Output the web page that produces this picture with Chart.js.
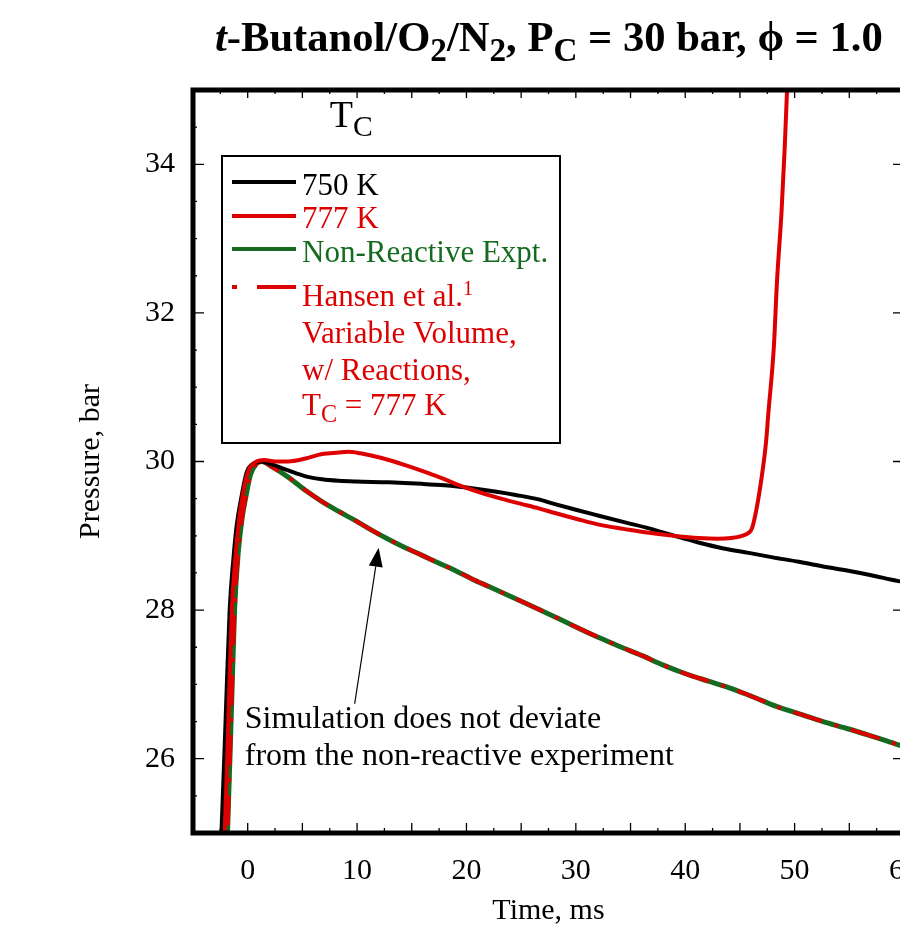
<!DOCTYPE html>
<html>
<head>
<meta charset="utf-8">
<script src="https://cdn.jsdelivr.net/npm/chart.js@4.4.0/dist/chart.umd.min.js"></script>
<style>
html, body { margin: 0; padding: 0; background: #fff; overflow: hidden; }
#wrap { width: 900px; height: 928px; overflow: hidden; }
</style>
</head>
<body>
<div id="wrap"><canvas id="pressureChart" width="940" height="928"></canvas></div>
<script>
// values: time in ms, pressure in bar
var time750 = [-2.7, -2.4, -2.0, -1.65, -1.3, -1.0, -0.6, -0.1, 0.5, 1.3, 2.2, 3.7, 5.3, 6.8, 8.3, 9.9, 12.9, 15.9, 18.0, 20.5, 22.9, 24.5, 26.6, 28.0, 30.0, 32.1, 34.5, 36.7, 39.0, 41.2, 43.5, 45.8, 48.0, 50.4, 52.5, 54.9, 57.0, 59.5, 60.5];
var pres750 = [24.3, 25.0, 26.6, 28.0, 28.7, 29.15, 29.5, 29.85, 29.97, 30.0, 29.96, 29.88, 29.8, 29.76, 29.74, 29.73, 29.72, 29.7, 29.68, 29.64, 29.59, 29.55, 29.49, 29.43, 29.35, 29.27, 29.18, 29.1, 29.0, 28.91, 28.83, 28.77, 28.71, 28.65, 28.59, 28.53, 28.47, 28.39, 28.37];

var time777 = [-2.4, -2.1, -1.75, -1.45, -1.1, -0.8, -0.45, 0.0, 0.7, 1.5, 2.5, 3.7, 5.3, 6.8, 8.3, 9.2, 10.3, 11.3, 12.9, 14.4, 16.0, 17.5, 19.0, 20.5, 22.9, 25.0, 26.6, 28.0, 30.0, 32.1, 34.5, 36.7, 39.0, 41.2, 43.0, 44.2, 45.2, 45.8, 46.1, 46.5, 47.0, 47.4, 47.6, 48.1, 48.4, 48.8, 49.1, 49.3, 49.5];
var pres777 = [24.3, 25.0, 26.6, 28.0, 28.75, 29.2, 29.55, 29.85, 29.99, 30.02, 30.0, 30.0, 30.04, 30.1, 30.12, 30.13, 30.11, 30.08, 30.02, 29.95, 29.87, 29.79, 29.7, 29.62, 29.51, 29.43, 29.37, 29.31, 29.23, 29.15, 29.09, 29.04, 29.0, 28.97, 28.96, 28.97, 29.0, 29.04, 29.1, 29.35, 29.8, 30.28, 30.65, 31.54, 32.45, 33.35, 34.24, 34.97, 35.7];

var timeNonReactive = [-2.1, -1.85, -1.5, -1.2, -0.85, -0.5, -0.2, 0.25, 0.8, 1.3, 2.2, 3.7, 5.3, 6.8, 8.3, 9.9, 11.4, 12.9, 14.4, 15.9, 17.5, 19.0, 20.5, 22.0, 23.5, 25.0, 26.6, 28.5, 30.2, 32.1, 34.0, 36.0, 38.0, 40.1, 42.2, 44.3, 46.4, 48.4, 50.5, 52.6, 54.7, 56.7, 59.2, 60.5];
var presNonReactive = [24.3, 25.0, 26.6, 28.0, 28.8, 29.25, 29.5, 29.82, 29.97, 30.0, 29.93, 29.79, 29.61, 29.46, 29.33, 29.2, 29.07, 28.95, 28.84, 28.74, 28.63, 28.53, 28.42, 28.32, 28.22, 28.12, 28.01, 27.88, 27.76, 27.63, 27.51, 27.39, 27.26, 27.14, 27.04, 26.94, 26.82, 26.7, 26.6, 26.5, 26.41, 26.32, 26.2, 26.14];

var timeSim = [-2.1, -1.85, -1.5, -1.2, -0.85, -0.5, -0.2, 0.25, 0.8, 1.3, 2.2, 3.7, 5.3, 6.8, 8.3, 9.9, 11.4, 12.9, 14.4, 15.9, 17.5, 19.0, 20.5, 22.0, 23.5, 25.0, 26.6, 28.5, 30.2, 32.1, 34.0, 36.0, 38.0, 40.1, 42.2, 44.3, 46.4, 48.4, 50.5, 52.6, 54.7, 56.7, 59.2, 60.5];
var presSim = [24.3, 25.0, 26.6, 28.0, 28.8, 29.25, 29.5, 29.82, 29.97, 30.0, 29.93, 29.79, 29.61, 29.46, 29.33, 29.2, 29.07, 28.95, 28.84, 28.74, 28.63, 28.53, 28.42, 28.32, 28.22, 28.12, 28.01, 27.88, 27.76, 27.63, 27.51, 27.39, 27.26, 27.14, 27.04, 26.94, 26.82, 26.7, 26.6, 26.5, 26.41, 26.32, 26.2, 26.14];

var xTickLabels = [0, 10, 20, 30, 40, 50, 60];
var yTickLabels = [26, 28, 30, 32, 34];

var RED = '#dd0000';
var GREEN = '#156b20';
var SERIF = "'Liberation Serif', 'Times New Roman', serif";

function toPoints(xs, ys) {
    var pts = [];
    for (var i = 0; i < xs.length; i++) {
        pts.push({x: xs[i], y: ys[i]});
    }
    return pts;
}

// draws a run of text pieces, some lowered (sub) or raised (sup)
function richWidth(ctx, parts, size, weight) {
    var w = 0;
    parts.forEach(function(p) {
        var s = p.sub ? size * 0.78 : (p.sup ? size * 0.65 : size);
        ctx.font = (p.style || '') + ' ' + weight + ' ' + s + 'px ' + SERIF;
        w += ctx.measureText(p.t).width;
    });
    return w;
}
function drawRich(ctx, parts, x, y, size, weight) {
    parts.forEach(function(p) {
        var s = p.sub ? size * 0.78 : (p.sup ? size * 0.65 : size);
        ctx.font = (p.style || '') + ' ' + weight + ' ' + s + 'px ' + SERIF;
        var dy = p.sub ? size * 0.24 : (p.sup ? -size * 0.36 : 0);
        ctx.fillText(p.t, x, y + dy);
        x += ctx.measureText(p.t).width;
    });
    return x;
}

var figureDecor = {
    id: 'figureDecor',
    afterDraw: function(chart) {
        var ctx = chart.ctx, ca = chart.chartArea;
        var xs = chart.scales.x, ys = chart.scales.y;
        ctx.save();

        // inward tick marks on all four sides
        ctx.strokeStyle = '#000';
        ctx.lineWidth = 1.3;
        ctx.beginPath();
        for (var t = -5; t <= 60.001; t += 2.5) {
            var px = xs.getPixelForValue(t);
            var major = Math.abs(t % 5) < 1e-6;
            ctx.moveTo(px, ca.bottom);
            ctx.lineTo(px, ca.bottom - (major ? 10 : 5));
            ctx.moveTo(px, ca.top);
            ctx.lineTo(px, ca.top + (major ? 8 : 4));
        }
        for (var v = 25; v <= 35.001; v += 0.5) {
            var py = ys.getPixelForValue(v);
            var big = Math.abs(v % 2) < 1e-6;
            ctx.moveTo(ca.left, py);
            ctx.lineTo(ca.left + (big ? 11 : 4), py);
            ctx.moveTo(ca.right, py);
            ctx.lineTo(ca.right - (big ? 11 : 4), py);
        }
        ctx.stroke();

        // frame
        ctx.lineWidth = 5;
        ctx.strokeRect(ca.left, ca.top, ca.right - ca.left, ca.bottom - ca.top);

        // title
        ctx.fillStyle = '#000';
        ctx.textBaseline = 'alphabetic';
        ctx.textAlign = 'left';
        var titleParts = [
            {t: 't', style: 'italic'}, {t: '-Butanol/O'}, {t: '2', sub: true},
            {t: '/N'}, {t: '2', sub: true}, {t: ', P'}, {t: 'C', sub: true},
            {t: ' = 30 bar, \u03D5 = 1.0'}
        ];
        var w40 = richWidth(ctx, titleParts, 40, 'bold');
        var tSize = 40 * 668 / w40;
        drawRich(ctx, titleParts, 215, 51, tSize, 'bold');

        // T_C label near the top of the plot
        ctx.fillStyle = '#000';
        drawRich(ctx, [{t: 'T'}, {t: 'C', sub: true}],
            xs.getPixelForValue(7.5), ys.getPixelForValue(34.5), 38, 'normal');

        // legend box
        var lx = ca.left + 29, ly = ca.top + 66;
        ctx.fillStyle = '#fff';
        ctx.fillRect(lx, ly, 338, 287);
        ctx.strokeStyle = '#000';
        ctx.lineWidth = 2;
        ctx.strokeRect(lx, ly, 338, 287);

        var sx0 = ca.left + 39, sx1 = ca.left + 103, tx = ca.left + 109;
        var samples = [
            {y: ca.top + 92, color: '#000', dash: []},
            {y: ca.top + 126, color: RED, dash: []},
            {y: ca.top + 159, color: GREEN, dash: []},
            {y: ca.top + 197, color: RED, dash: [5, 20, 40]}
        ];
        ctx.lineWidth = 4;
        samples.forEach(function(s) {
            ctx.strokeStyle = s.color;
            ctx.setLineDash(s.dash);
            ctx.beginPath();
            ctx.moveTo(sx0, s.y);
            ctx.lineTo(sx1, s.y);
            ctx.stroke();
        });
        ctx.setLineDash([]);

        var lf = 31;
        ctx.font = lf + 'px ' + SERIF;
        ctx.fillStyle = '#000';
        ctx.fillText('750 K', tx, ca.top + 105);
        ctx.fillStyle = RED;
        ctx.fillText('777 K', tx, ca.top + 138);
        ctx.fillStyle = GREEN;
        ctx.fillText('Non-Reactive Expt.', tx, ca.top + 172);
        ctx.fillStyle = RED;
        drawRich(ctx, [{t: 'Hansen et al.'}, {t: '1', sup: true}], tx, ca.top + 216, lf, 'normal');
        ctx.font = lf + 'px ' + SERIF;
        ctx.fillText('Variable Volume,', tx, ca.top + 253);
        ctx.fillText('w/ Reactions,', tx, ca.top + 290);
        drawRich(ctx, [{t: 'T'}, {t: 'C', sub: true}, {t: ' = 777 K'}], tx, ca.top + 325, lf, 'normal');

        // annotation with arrow
        ctx.fillStyle = '#000';
        ctx.font = '32px ' + SERIF;
        var ax = xs.getPixelForValue(-0.27);
        ctx.fillText('Simulation does not deviate', ax, ys.getPixelForValue(26.41));
        ctx.fillText('from the non-reactive experiment', ax, ys.getPixelForValue(25.91));

        var x0 = xs.getPixelForValue(9.78), y0 = ys.getPixelForValue(26.74);
        var x1 = xs.getPixelForValue(11.97), y1 = ys.getPixelForValue(28.84);
        var ang = Math.atan2(y1 - y0, x1 - x0);
        var hl = 19, hw = 7;
        var bx = x1 - hl * Math.cos(ang), by = y1 - hl * Math.sin(ang);
        ctx.strokeStyle = '#000';
        ctx.lineWidth = 1.2;
        ctx.beginPath();
        ctx.moveTo(x0, y0);
        ctx.lineTo(bx, by);
        ctx.stroke();
        ctx.beginPath();
        ctx.moveTo(x1, y1);
        ctx.lineTo(bx + hw * Math.sin(ang), by - hw * Math.cos(ang));
        ctx.lineTo(bx - hw * Math.sin(ang), by + hw * Math.cos(ang));
        ctx.closePath();
        ctx.fill();

        ctx.restore();
    }
};

// Chart.js paints the first dataset on top, so the list runs top to bottom
var ctx = document.getElementById('pressureChart');
var pressureChart = new Chart(ctx, {
    type: 'line',
    data: {
        datasets: [
            {
                label: '777 K',
                data: toPoints(time777, pres777),
                borderColor: RED,
                borderWidth: 4,
                pointRadius: 0,
                cubicInterpolationMode: 'monotone'
            },
            {
                label: '750 K',
                data: toPoints(time750, pres750),
                borderColor: '#000',
                borderWidth: 4,
                pointRadius: 0,
                cubicInterpolationMode: 'monotone'
            },
            {
                label: 'Hansen et al. Variable Volume, w/ Reactions, TC = 777 K',
                data: toPoints(timeSim, presSim),
                borderColor: RED,
                borderWidth: 4,
                borderDash: [30, 13, 4, 13],
                pointRadius: 0,
                cubicInterpolationMode: 'monotone'
            },
            {
                label: 'Non-Reactive Expt.',
                data: toPoints(timeNonReactive, presNonReactive),
                borderColor: GREEN,
                borderWidth: 5,
                pointRadius: 0,
                cubicInterpolationMode: 'monotone'
            }
        ]
    },
    options: {
        responsive: false,
        animation: false,
        devicePixelRatio: 1,
        layout: { padding: { top: 90, right: 36, left: 0, bottom: 0 } },
        plugins: {
            legend: { display: false },
            title: { display: false },
            tooltip: { enabled: false }
        },
        scales: {
            x: {
                type: 'linear',
                min: -5,
                max: 60,
                grid: { display: false, drawTicks: false },
                border: { display: false },
                afterBuildTicks: function(axis) {
                    axis.ticks = xTickLabels.map(function(v) { return {value: v}; });
                },
                afterFit: function(axis) { axis.height = 95; },
                ticks: {
                    color: '#000',
                    padding: 20,
                    maxRotation: 0,
                    autoSkip: false,
                    font: { family: SERIF, size: 30 }
                },
                title: {
                    display: true,
                    text: 'Time, ms',
                    color: '#000',
                    font: { family: SERIF, size: 30, lineHeight: 1 },
                    padding: { top: 0, bottom: 2 }
                }
            },
            y: {
                type: 'linear',
                min: 25,
                max: 35,
                grid: { display: false, drawTicks: false },
                border: { display: false },
                afterBuildTicks: function(axis) {
                    axis.ticks = yTickLabels.map(function(v) { return {value: v}; });
                },
                afterFit: function(axis) { axis.width = 193; },
                ticks: {
                    color: '#000',
                    padding: 18,
                    font: { family: SERIF, size: 30 }
                },
                title: {
                    display: true,
                    text: 'Pressure, bar',
                    color: '#000',
                    font: { family: SERIF, size: 30, lineHeight: 1 },
                    padding: { top: 76, bottom: 0 }
                }
            }
        }
    },
    plugins: [figureDecor]
});
</script>
</body>
</html>
